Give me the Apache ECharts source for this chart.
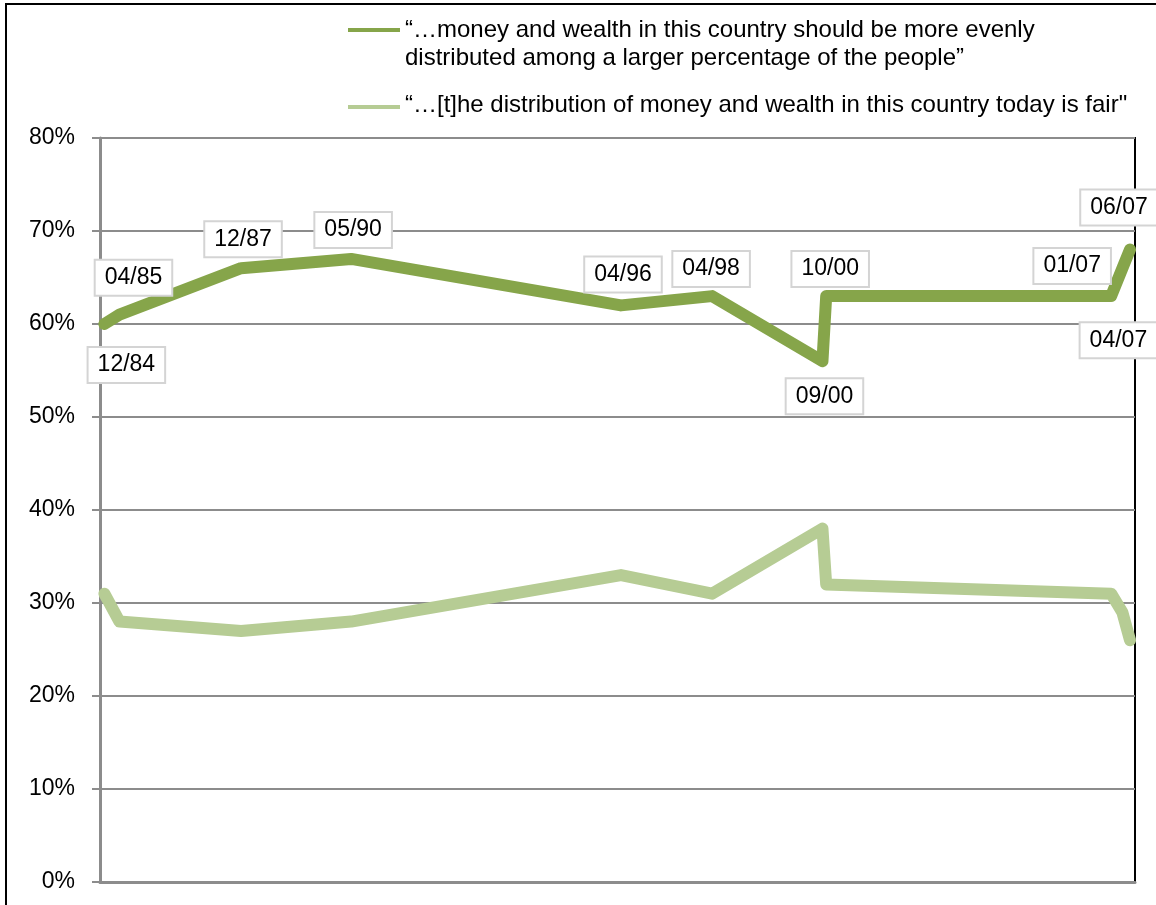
<!DOCTYPE html>
<html>
<head>
<meta charset="utf-8">
<script src="https://cdn.jsdelivr.net/npm/echarts@6/dist/echarts.min.js"></script>
<style>
html,body{margin:0;padding:0;background:#fff;}
#chart{width:1156px;height:905px;}
</style>
</head>
<body>
<div id="chart"></div>
<script>
// ---- data ----
var dates = ['1984-12-15','1985-04-15','1987-12-15','1990-05-15','1996-04-15','1998-04-15','2000-09-15','2000-10-15','2007-01-15','2007-04-15','2007-06-15'];
var dateLabels = ['12/84','04/85','12/87','05/90','04/96','04/98','09/00','10/00','01/07','04/07','06/07'];
var evenlyValues = [60, 61, 66, 67, 62, 63, 56, 63, 63, 66, 68];
var fairValues = [31, 28, 27, 28, 33, 31, 38, 32, 31, 29, 26];
var yTicks = [0, 10, 20, 30, 40, 50, 60, 70, 80];
var seriesNames = [
  '\u201c\u2026money and wealth in this country should be more evenly\ndistributed among a larger percentage of the people\u201d',
  '\u201c\u2026[t]he distribution of money and wealth in this country today is fair"'
];

// ---- styling / layout ----
var DARK = '#86a54a';
var LIGHT = '#b6cc94';
var FONT = '"Liberation Sans", Arial, sans-serif';
var labelOffsets = {
  '12/84': [22, 41], '04/85': [14, -37], '12/87': [2, -29], '05/90': [2, -29],
  '04/96': [2, -31], '04/98': [-1, -27], '09/00': [2, 35], '10/00': [4, -27],
  '01/07': [-39, -30], '04/07': [-4, 72], '06/07': [-11, -42]
};

var evenlyData = dates.map(function (d, i) { return [d, evenlyValues[i]]; });
var fairData = dates.map(function (d, i) { return [d, fairValues[i]]; });

var chart = echarts.init(document.getElementById('chart'), null, { renderer: 'canvas' });
chart.setOption({
  animation: false,
  backgroundColor: '#fff',
  textStyle: { fontFamily: FONT },
  grid: {
    left: 100, right: 21, top: 138, bottom: 23,
    show: true, borderColor: '#000', borderWidth: 2, backgroundColor: 'transparent'
  },
  xAxis: {
    type: 'time',
    min: '1984-11-10',
    max: '2007-07-25',
    axisLine: { show: true, lineStyle: { color: '#8c8c8c', width: 3 } },
    axisTick: { show: false },
    axisLabel: { show: false },
    splitLine: { show: false }
  },
  yAxis: {
    type: 'value',
    min: yTicks[0], max: yTicks[yTicks.length - 1], interval: 10,
    axisLine: { show: true, lineStyle: { color: '#8c8c8c', width: 3 } },
    axisTick: { show: true, length: 8, lineStyle: { color: '#8c8c8c', width: 2 } },
    axisLabel: { formatter: '{value}%', color: '#000', fontSize: 23, margin: 25, fontFamily: FONT },
    splitLine: { show: true, lineStyle: { color: '#8c8c8c', width: 2 } }
  },
  legend: { show: false },
  series: [
    {
      name: seriesNames[1],
      type: 'line',
      data: fairData,
      showSymbol: false,
      lineStyle: { color: LIGHT, width: 12, cap: 'round', join: 'round' },
      itemStyle: { color: LIGHT },
      z: 2
    },
    {
      name: seriesNames[0],
      type: 'line',
      data: evenlyData,
      showSymbol: true,
      symbol: 'circle',
      symbolSize: 1,
      itemStyle: { color: 'rgba(0,0,0,0)', borderWidth: 0 },
      lineStyle: { color: DARK, width: 12, cap: 'round', join: 'round' },
      label: {
        show: true,
        position: 'inside',
        formatter: function (p) { return dateLabels[p.dataIndex]; },
        color: '#000',
        fontSize: 23,
        fontFamily: FONT,
        backgroundColor: '#fff',
        borderColor: '#d4d4d4',
        borderWidth: 2,
        padding: [6, 9, 5, 9]
      },
      labelLayout: function (params) {
        var off = labelOffsets[dateLabels[params.dataIndex]] || [0, 0];
        return { dx: off[0], dy: off[1], hideOverlap: false };
      },
      z: 3
    }
  ],
  graphic: [
    {
      type: 'rect', silent: true, z: 100,
      shape: { x: 6, y: 4, width: 1300, height: 1000 },
      style: { fill: 'none', stroke: '#000', lineWidth: 2 }
    },
    {
      type: 'line', silent: true,
      shape: { x1: 348, y1: 30, x2: 400, y2: 30 },
      style: { stroke: DARK, lineWidth: 4 }
    },
    {
      type: 'text', silent: true, left: 405, top: 16,
      style: { text: seriesNames[0], fill: '#000', font: '24px ' + FONT, lineHeight: 28 }
    },
    {
      type: 'line', silent: true,
      shape: { x1: 348, y1: 107, x2: 400, y2: 107 },
      style: { stroke: LIGHT, lineWidth: 4 }
    },
    {
      type: 'text', silent: true, left: 405, top: 93,
      style: { text: seriesNames[1], fill: '#000', font: '24px ' + FONT }
    }
  ]
});
</script>
</body>
</html>
